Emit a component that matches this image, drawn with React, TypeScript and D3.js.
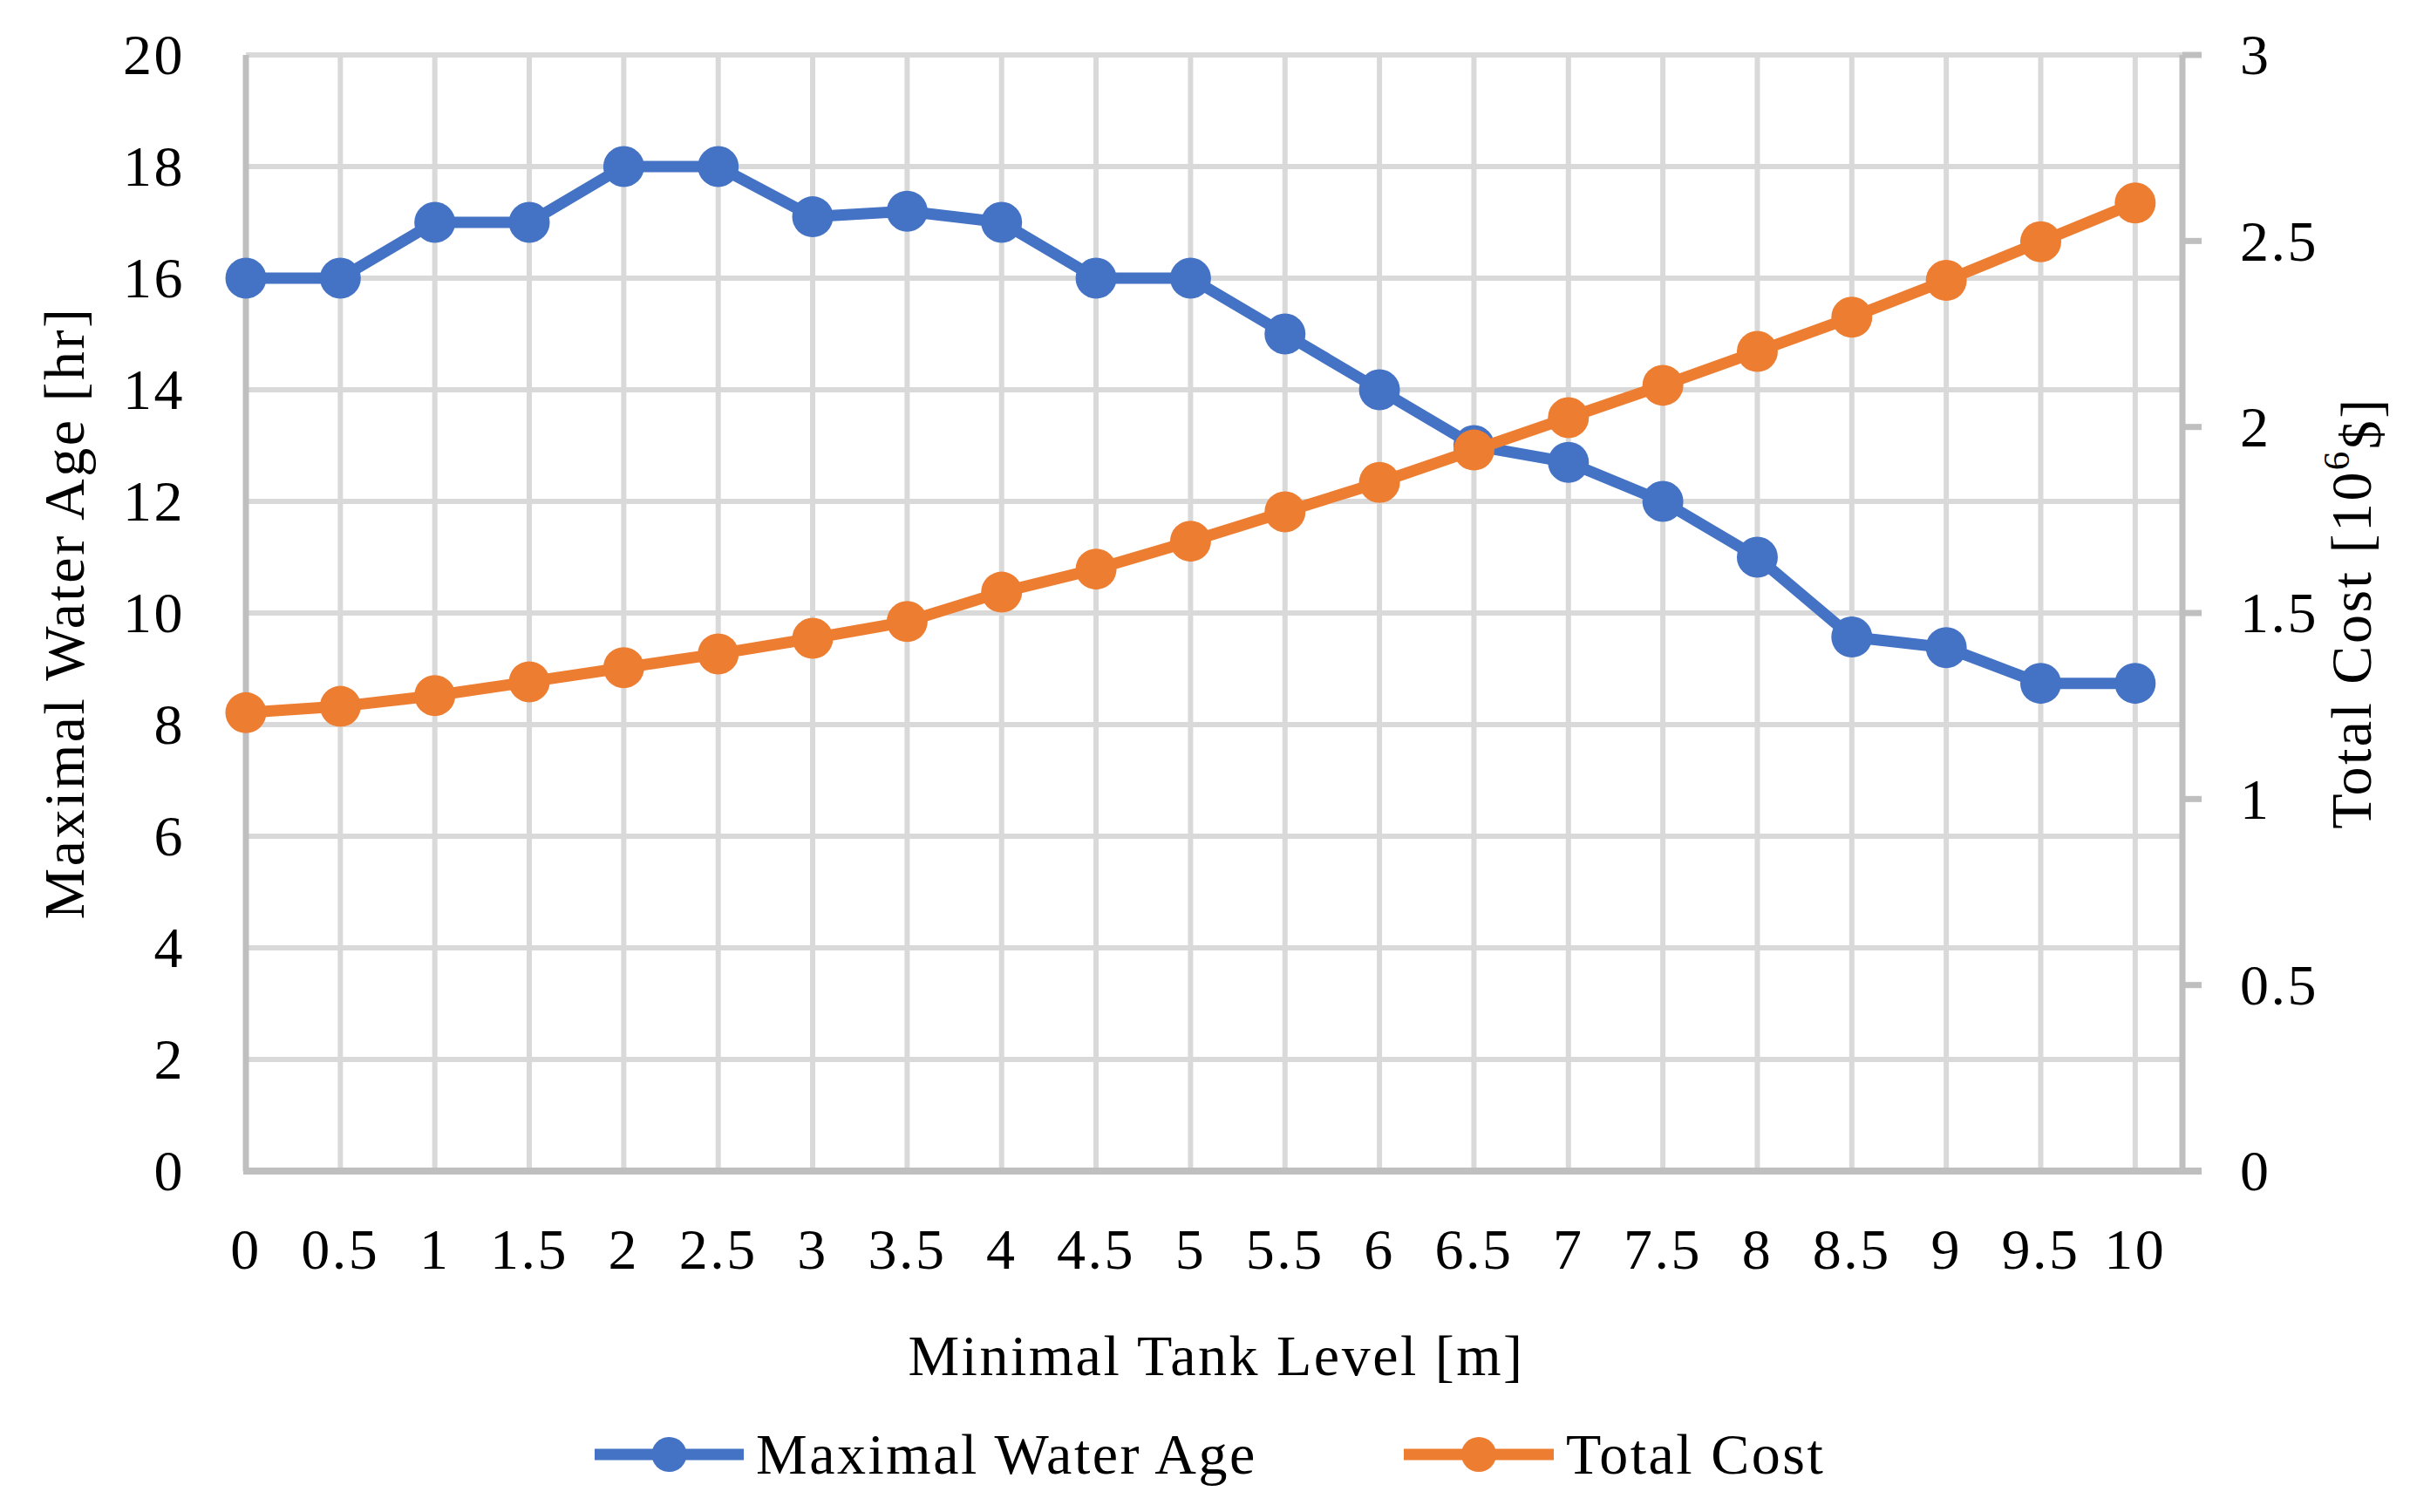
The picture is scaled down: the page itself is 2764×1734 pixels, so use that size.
import React, { useRef, useEffect } from 'react';
import * as d3 from 'd3';

// Minimal tank level [m]
const levels = [0, 0.5, 1, 1.5, 2, 2.5, 3, 3.5, 4, 4.5, 5, 5.5, 6, 6.5, 7, 7.5, 8, 8.5, 9, 9.5, 10];
// Maximal water age [hr]
const waterAge = [16, 16, 17, 17, 18, 18, 17.1, 17.2, 17, 16, 16, 15, 14, 13, 12.7, 12, 11, 9.57, 9.38, 8.74, 8.74];
// Total cost [10^6 $]
const totalCost = [1.232, 1.249, 1.278, 1.315, 1.353, 1.39, 1.432, 1.477, 1.556, 1.618, 1.693, 1.772, 1.851, 1.938, 2.025, 2.112, 2.203, 2.295, 2.394, 2.498, 2.602];

const leftTicks = [0, 2, 4, 6, 8, 10, 12, 14, 16, 18, 20];
const rightTicks = [0, 0.5, 1, 1.5, 2, 2.5, 3];
const xTickLabels = ['0', '0.5', '1', '1.5', '2', '2.5', '3', '3.5', '4', '4.5', '5', '5.5', '6', '6.5', '7', '7.5', '8', '8.5', '9', '9.5', '10'];

const seriesNames = ['Maximal Water Age', 'Total Cost'];
const colors = ['#4472C4', '#ED7D31'];

const W = 2764;
const H = 1734;
const FONT = '"Palatino Linotype", "Book Antiqua", Palatino, "Liberation Serif", serif';

const App: React.FC = () => {
  const svgRef = useRef<SVGSVGElement | null>(null);

  useEffect(() => {
    document.body.style.margin = '0';
    const svg = d3.select(svgRef.current);
    svg.selectAll('*').remove();

    const left = 282, right = 2503, top = 63, bottom = 1343;

    const x = d3.scaleLinear().domain([0, 10.25]).range([left, right]);
    const yL = d3.scaleLinear().domain([0, 20]).range([bottom, top]);
    const yR = d3.scaleLinear().domain([0, 3]).range([bottom, top]);

    const fs = 66;
    const ls = 2.5;

    // gridlines
    const grid = svg.append('g').attr('stroke', '#d9d9d9').attr('stroke-width', 6);
    grid.selectAll('line.h')
      .data(leftTicks.filter(t => t > 0))
      .join('line')
      .attr('x1', left).attr('x2', right)
      .attr('y1', d => yL(d)).attr('y2', d => yL(d));
    grid.selectAll('line.v')
      .data(levels.filter(t => t > 0))
      .join('line')
      .attr('x1', d => x(d)).attr('x2', d => x(d))
      .attr('y1', top).attr('y2', bottom);

    // axes
    const ax = svg.append('g').attr('stroke', '#bfbfbf').attr('stroke-width', 7);
    ax.append('line').attr('x1', left).attr('x2', left).attr('y1', top).attr('y2', bottom);
    ax.append('line').attr('x1', right).attr('x2', right).attr('y1', top).attr('y2', bottom);
    ax.append('line').attr('x1', left - 3).attr('x2', right + 22).attr('y1', bottom).attr('y2', bottom).attr('stroke-width', 8);
    ax.selectAll('line.rt')
      .data(rightTicks)
      .join('line')
      .attr('x1', right).attr('x2', right + 22)
      .attr('y1', d => yR(d)).attr('y2', d => yR(d));

    const txt = svg.append('g')
      .attr('font-family', FONT)
      .attr('font-size', fs)
      .attr('letter-spacing', ls)
      .attr('fill', '#000');

    // left tick labels
    txt.selectAll('text.lt')
      .data(leftTicks)
      .join('text')
      .attr('x', 212)
      .attr('y', d => yL(d))
      .attr('dy', '0.34em')
      .attr('text-anchor', 'end')
      .text(d => String(d));

    // right tick labels
    txt.selectAll('text.rt')
      .data(rightTicks)
      .join('text')
      .attr('x', 2569)
      .attr('y', d => yR(d))
      .attr('dy', '0.34em')
      .attr('text-anchor', 'start')
      .text(d => String(d));

    // x tick labels
    txt.selectAll('text.xt')
      .data(levels)
      .join('text')
      .attr('x', (d, i) => x(d))
      .attr('y', 1433)
      .attr('dy', '0.34em')
      .attr('text-anchor', 'middle')
      .text((d, i) => xTickLabels[i]);

    // axis titles
    txt.append('text')
      .attr('x', 1395)
      .attr('y', 1555)
      .attr('dy', '0.34em')
      .attr('text-anchor', 'middle')
      .text('Minimal Tank Level [m]');

    txt.append('text')
      .attr('transform', `translate(74,${(top + bottom) / 2}) rotate(-90)`)
      .attr('dy', '0.34em')
      .attr('text-anchor', 'middle')
      .text('Maximal Water Age [hr]');

    const rt = txt.append('text')
      .attr('transform', `translate(2697,${(top + bottom) / 2}) rotate(-90)`)
      .attr('dy', '0.34em')
      .attr('text-anchor', 'middle');
    rt.append('tspan').text('Total Cost [10');
    rt.append('tspan').attr('font-size', fs * 0.65).attr('dy', '-0.6em').text('6');
    rt.append('tspan').attr('dy', '0.55em').text('$]');

    // series
    const series = [
      { vals: waterAge, y: yL, color: colors[0] },
      { vals: totalCost, y: yR, color: colors[1] },
    ];
    series.forEach(s => {
      const line = d3.line<number>()
        .x((d, i) => x(levels[i]))
        .y(d => s.y(d));
      svg.append('path')
        .datum(s.vals)
        .attr('d', line)
        .attr('fill', 'none')
        .attr('stroke', s.color)
        .attr('stroke-width', 13)
        .attr('stroke-linejoin', 'round');
      svg.append('g').selectAll('circle')
        .data(s.vals)
        .join('circle')
        .attr('cx', (d, i) => x(levels[i]))
        .attr('cy', d => s.y(d))
        .attr('r', 23.5)
        .attr('fill', s.color);
    });

    // legend
    const legendY = 1668;
    const legendItems = [
      { x0: 682, x1: 853, tx: 867 },
      { x0: 1610, x1: 1782, tx: 1796 },
    ];
    legendItems.forEach((it, i) => {
      const g = svg.append('g');
      g.append('line')
        .attr('x1', it.x0).attr('x2', it.x1)
        .attr('y1', legendY).attr('y2', legendY)
        .attr('stroke', colors[i]).attr('stroke-width', 13);
      g.append('circle')
        .attr('cx', (it.x0 + it.x1) / 2).attr('cy', legendY)
        .attr('r', 20).attr('fill', colors[i]);
      g.append('text')
        .attr('x', it.tx).attr('y', legendY)
        .attr('dy', '0.34em')
        .attr('font-family', FONT)
        .attr('font-size', fs)
        .attr('letter-spacing', ls)
        .text(seriesNames[i]);
    });
  }, []);

  return (
    <svg
      ref={svgRef}
      width={W}
      height={H}
      style={{ position: 'absolute', left: 0, top: 0, background: '#fff' }}
    />
  );
};

export default App;
